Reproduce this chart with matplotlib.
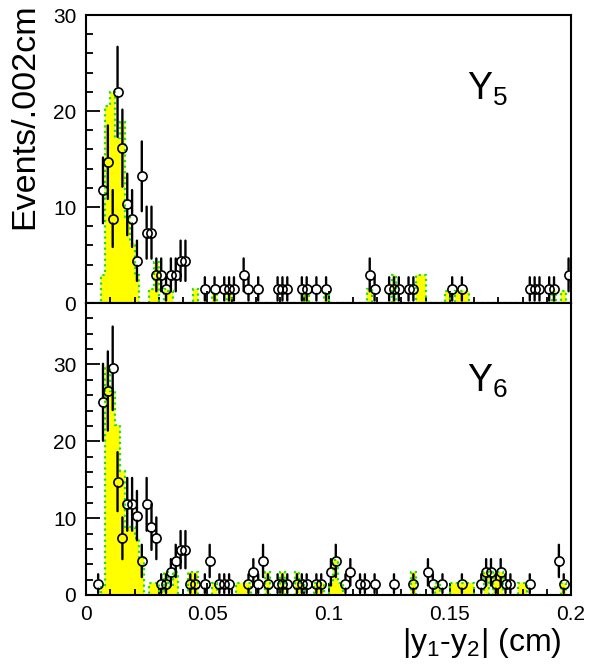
"""Two-panel |y1-y2| distributions: data points over the simulated spectrum"""

import numpy as np
import matplotlib
matplotlib.use('Agg')

import matplotlib.pyplot as plt
from matplotlib.ticker import MultipleLocator

plt.rcParams['font.family'] = ['Liberation Sans', 'DejaVu Sans']
plt.rcParams['mathtext.fontset'] = 'custom'
plt.rcParams['mathtext.rm'] = 'Liberation Sans'
plt.rcParams['mathtext.it'] = 'Liberation Sans:italic'

BIN_WIDTH = 0.002
N_BINS = 100

# Y5: data (bin centre in cm, events per bin)
y5_data_x = [0.007, 0.009, 0.011, 0.013, 0.015, 0.017, 0.019, 0.021, 0.023, 0.025,
             0.027, 0.029, 0.031, 0.033, 0.035, 0.037, 0.039, 0.041, 0.049, 0.053,
             0.057, 0.059, 0.061, 0.065, 0.067, 0.071, 0.079, 0.081, 0.083, 0.089,
             0.091, 0.095, 0.099, 0.117, 0.119, 0.125, 0.127, 0.129, 0.133, 0.135,
             0.151, 0.155, 0.183, 0.185, 0.187, 0.191, 0.193, 0.199]
y5_data_y = [11.73, 14.67, 8.80, 22.00, 16.13, 10.27, 8.80, 4.40, 13.20, 7.33,
             7.33, 2.93, 2.93, 1.47, 2.93, 2.93, 4.40, 4.40, 1.47, 1.47,
             1.47, 1.47, 1.47, 2.93, 1.47, 1.47, 1.47, 1.47, 1.47, 1.47,
             1.47, 1.47, 1.47, 2.93, 1.47, 1.47, 1.47, 1.47, 1.47, 1.47,
             1.47, 1.47, 1.47, 1.47, 1.47, 1.47, 1.47, 2.93]

# Y5: simulation
y5_mc_x = [0.007, 0.009, 0.011, 0.013, 0.015, 0.017, 0.019, 0.021, 0.027, 0.029,
           0.033, 0.035, 0.045, 0.053, 0.059, 0.091, 0.099, 0.117, 0.127, 0.137,
           0.139, 0.149, 0.153, 0.155, 0.157, 0.193, 0.197]
y5_mc_y = [2.9, 20.5, 22.0, 17.2, 18.9, 9.0, 6.3, 2.9, 1.5, 4.3,
           1.5, 1.3, 1.5, 1.0, 1.0, 1.0, 1.0, 1.5, 2.9, 2.9,
           2.9, 1.3, 1.3, 1.3, 1.3, 1.3, 1.3]

# Y6: data
y6_data_x = [0.005, 0.007, 0.009, 0.011, 0.013, 0.015, 0.017, 0.019, 0.021, 0.023,
             0.025, 0.027, 0.029, 0.031, 0.033, 0.035, 0.037, 0.039, 0.041, 0.043,
             0.045, 0.049, 0.051, 0.055, 0.057, 0.059, 0.067, 0.069, 0.071, 0.073,
             0.075, 0.079, 0.081, 0.083, 0.087, 0.089, 0.091, 0.095, 0.097, 0.101,
             0.103, 0.107, 0.109, 0.113, 0.115, 0.119, 0.127, 0.135, 0.141, 0.143,
             0.147, 0.155, 0.163, 0.165, 0.167, 0.169, 0.171, 0.173, 0.175, 0.183,
             0.195, 0.197]
y6_data_y = [1.48, 25.08, 26.55, 29.50, 14.75, 7.38, 11.80, 11.80, 10.33, 4.43,
             11.80, 8.85, 7.38, 1.48, 1.48, 2.95, 4.43, 5.90, 5.90, 1.48,
             1.48, 1.48, 4.43, 1.48, 1.48, 1.48, 1.48, 2.95, 1.48, 4.43,
             1.48, 1.48, 1.48, 1.48, 1.48, 1.48, 1.48, 1.48, 1.48, 2.95,
             4.43, 1.48, 2.95, 1.48, 1.48, 1.48, 1.48, 1.48, 2.95, 1.48,
             1.48, 1.48, 1.48, 2.95, 2.95, 1.48, 2.95, 1.48, 1.48, 1.48,
             4.43, 1.48]

# Y6: simulation
y6_mc_x = [0.007, 0.009, 0.011, 0.013, 0.015, 0.017, 0.019, 0.021, 0.023, 0.027,
           0.029, 0.031, 0.033, 0.035, 0.037, 0.043, 0.045, 0.053, 0.063, 0.065,
           0.067, 0.075, 0.081, 0.087, 0.089, 0.095, 0.097, 0.101, 0.103, 0.105,
           0.135, 0.145, 0.151, 0.153, 0.155, 0.157, 0.159, 0.165, 0.169, 0.171,
           0.179, 0.181, 0.197]
y6_mc_y = [1.0, 29.8, 26.6, 22.1, 16.2, 8.9, 8.9, 7.4, 4.8, 1.5,
           1.5, 0.5, 3.0, 1.0, 3.0, 3.0, 3.0, 1.5, 1.5, 1.5,
           1.5, 3.0, 3.0, 3.0, 1.5, 1.5, 1.5, 1.5, 4.5, 1.5,
           3.0, 1.5, 1.5, 1.5, 1.5, 1.5, 1.5, 3.0, 3.0, 3.0,
           1.5, 1.5, 1.5]

edges = np.linspace(0.0, N_BINS * BIN_WIDTH, N_BINS + 1)


def fill_bins(xs, ys):
    counts = np.zeros(N_BINS)
    idx = np.floor(np.asarray(xs) / BIN_WIDTH).astype(int)
    counts[idx] = ys
    return counts


def draw_panel(ax, data_x, data_y, mc_x, mc_y, ymax, label, label_y):
    mc = fill_bins(mc_x, mc_y)
    ax.stairs(mc, edges, fill=True, color='#ffff00', lw=0, zorder=1)
    ax.stairs(mc, edges, color='#22dd22', lw=1.6, ls=(0, (1, 1.5)), zorder=2)

    # error bars stop at the marker edge, like open circles in ROOT
    r = 3.6
    for x, y in zip(data_x, data_y):
        err = np.sqrt(y)
        for end in (y + err, y - err):
            ax.annotate('', xy=(x, end), xytext=(x, y),
                        arrowprops=dict(arrowstyle='-', shrinkA=r, shrinkB=0,
                                        lw=1.7, color='black'),
                        zorder=3)
    ax.plot(data_x, data_y, 'o', ms=6.6, mfc='none', mec='black', mew=1.2,
            zorder=4)

    ax.set_xlim(0, 0.2)
    ax.set_ylim(0, ymax)
    ax.xaxis.set_major_locator(MultipleLocator(0.05))
    ax.xaxis.set_minor_locator(MultipleLocator(0.01))
    ax.yaxis.set_major_locator(MultipleLocator(10))
    ax.yaxis.set_minor_locator(MultipleLocator(2))
    ax.tick_params(which='both', direction='in', top=False, right=False,
                   labelsize=15, width=1.3, pad=7)
    ax.tick_params(axis='y', which='major', length=10)
    ax.tick_params(axis='y', which='minor', length=5)
    ax.tick_params(axis='x', which='major', length=9)
    ax.tick_params(axis='x', which='minor', length=4.5)
    for s in ax.spines.values():
        s.set_linewidth(1.5)
        s.set_zorder(5)
    ax.text(0.785, label_y, label, transform=ax.transAxes, fontsize=27)


def main():
    fig = plt.figure(figsize=(5.9, 6.68), dpi=100)
    ax1 = fig.add_axes([0.1458, 0.5464, 0.8220, 0.4311])
    ax2 = fig.add_axes([0.1458, 0.1093, 0.8220, 0.4371])

    draw_panel(ax1, y5_data_x, y5_data_y, y5_mc_x, y5_mc_y, 30,
               r'Y$\mathregular{_5}$', 0.705)
    draw_panel(ax2, y6_data_x, y6_data_y, y6_mc_x, y6_mc_y, 38,
               r'Y$\mathregular{_6}$', 0.695)

    ax1.tick_params(axis='x', labelbottom=False)
    ax2.set_xticks([0, 0.05, 0.1, 0.15, 0.2])
    ax2.set_xticklabels(['0', '0.05', '0.1', '0.15', '0.2'])

    fig.text(0.042, 0.995, 'Events/.002cm', rotation=90, ha='center', va='top',
             fontsize=24.5)
    fig.text(0.952, 0.038, r'|y$\mathregular{_1}$-y$\mathregular{_2}$| (cm)',
             ha='right', va='center', fontsize=23)

    plt.savefig('out.png', dpi=100)


if __name__ == '__main__':
    main()
